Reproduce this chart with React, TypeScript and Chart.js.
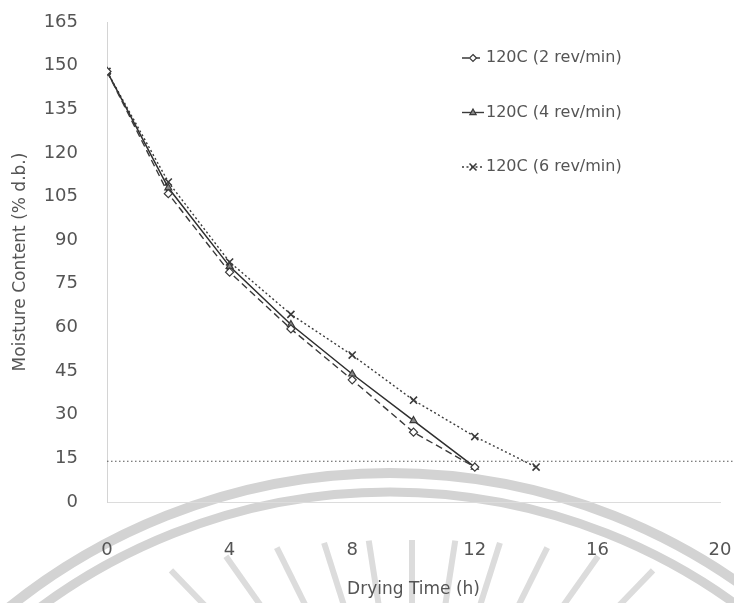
import React, { useEffect, useRef } from "react";
import { Chart, registerables } from "chart.js";

Chart.register(...registerables);

const DRY_TIME_H = [0, 2, 4, 6, 8, 10, 12, 14];
const MC_2REV = [148, 106, 79, 59.5, 42, 24, 12];
const MC_4REV = [148, 108, 81, 61, 44, 28, 12];
const MC_6REV = [148, 110, 82.5, 64.5, 50.5, 35, 22.5, 12];
const SERIES_LABELS = ["120C (2 rev/min)", "120C (4 rev/min)", "120C (6 rev/min)"];
const Y_TICKS = { min: 0, max: 165, step: 15 };
const X_TICKS = { min: 0, max: 20, step: 4 };
const TARGET_MC = 14;

const FONT = "'DejaVu Sans', 'Liberation Sans', Arial, sans-serif";
const INK = "#3a3a3a";
const TEXT = "#555555";

const toPoints = (ys: number[]) => ys.map((y, i) => ({ x: DRY_TIME_H[i], y }));

const watermarkPlugin = {
  id: "watermark",
  beforeDraw(chart: any) {
    const ctx = chart.ctx;
    ctx.save();
    ctx.strokeStyle = "#d3d3d3";
    const cx = 390, cy = 1080;
    ctx.lineWidth = 10;
    ctx.beginPath();
    ctx.arc(cx, cy, 607, Math.PI, 2 * Math.PI);
    ctx.stroke();
    ctx.lineWidth = 9;
    ctx.beginPath();
    ctx.arc(cx, cy, 588, Math.PI, 2 * Math.PI);
    ctx.stroke();
    // sun rays
    ctx.strokeStyle = "#dcdcdc";
    ctx.lineWidth = 6;
    ctx.lineCap = "butt";
    const rx = 412, ry = 820;
    for (let a = -44; a <= 44.1; a += 8.8) {
      const t = (a * Math.PI) / 180;
      const rOut = 280 + 90 * Math.pow(Math.abs(a) / 51, 2);
      const rIn = rOut - 110;
      ctx.beginPath();
      ctx.moveTo(rx + Math.sin(t) * rIn, ry - Math.cos(t) * rIn);
      ctx.lineTo(rx + Math.sin(t) * rOut, ry - Math.cos(t) * rOut);
      ctx.stroke();
    }
    ctx.restore();
  },
};

const refLinePlugin = {
  id: "refLine",
  beforeDatasetsDraw(chart: any) {
    const { ctx, chartArea, scales } = chart;
    const y = scales.y.getPixelForValue(TARGET_MC);
    ctx.save();
    ctx.strokeStyle = "#555";
    ctx.lineWidth = 1.2;
    ctx.setLineDash([1.5, 2.5]);
    ctx.beginPath();
    ctx.moveTo(chartArea.left, y);
    ctx.lineTo(chart.width, y);
    ctx.stroke();
    ctx.restore();
  },
};

function drawMarker(ctx: CanvasRenderingContext2D, style: string, x: number, y: number, r: number) {
  ctx.beginPath();
  if (style === "rectRot") {
    ctx.moveTo(x, y - r);
    ctx.lineTo(x + r, y);
    ctx.lineTo(x, y + r);
    ctx.lineTo(x - r, y);
    ctx.closePath();
    ctx.fill();
    ctx.stroke();
  } else if (style === "triangle") {
    ctx.moveTo(x, y - r);
    ctx.lineTo(x + r * 0.9, y + r * 0.6);
    ctx.lineTo(x - r * 0.9, y + r * 0.6);
    ctx.closePath();
    ctx.fill();
    ctx.stroke();
  } else {
    ctx.moveTo(x - r, y - r);
    ctx.lineTo(x + r, y + r);
    ctx.moveTo(x + r, y - r);
    ctx.lineTo(x - r, y + r);
    ctx.stroke();
  }
}

const legendPlugin = {
  id: "customLegend",
  afterDraw(chart: any) {
    const ctx = chart.ctx;
    ctx.save();
    chart.data.datasets.forEach((ds: any, i: number) => {
      const y = 58 + i * 54.5;
      const x0 = 462, x1 = 484;
      ctx.strokeStyle = INK;
      ctx.lineWidth = 1.4;
      ctx.setLineDash(ds.borderDash || []);
      ctx.beginPath();
      ctx.moveTo(x0, y);
      ctx.lineTo(x1, y);
      ctx.stroke();
      ctx.setLineDash([]);
      ctx.strokeStyle = ds.pointBorderColor;
      ctx.fillStyle = ds.pointBackgroundColor;
      ctx.lineWidth = ds.pointBorderWidth;
      drawMarker(ctx, ds.pointStyle, (x0 + x1) / 2, y, 3.5);
      ctx.fillStyle = TEXT;
      ctx.font = `16px ${FONT}`;
      ctx.textAlign = "left";
      ctx.textBaseline = "middle";
      ctx.fillText(ds.label, x1 + 2, y);
    });
    ctx.restore();
  },
};

export default function App() {
  const canvasRef = useRef<HTMLCanvasElement | null>(null);

  useEffect(() => {
    document.body.style.margin = "0";
    const canvas = canvasRef.current;
    if (!canvas) return;
    const chart = new Chart(canvas, {
      type: "line",
      data: {
        datasets: [
          {
            label: SERIES_LABELS[0],
            data: toPoints(MC_2REV),
            borderColor: INK,
            borderWidth: 1.4,
            borderDash: [7, 4],
            pointStyle: "rectRot",
            pointRadius: 4,
            pointBorderWidth: 1.2,
            pointBorderColor: INK,
            pointBackgroundColor: "#ffffff",
            tension: 0,
          },
          {
            label: SERIES_LABELS[1],
            data: toPoints(MC_4REV),
            borderColor: "#2e2e2e",
            borderWidth: 1.5,
            pointStyle: "triangle",
            pointRadius: 4,
            pointBorderWidth: 1.2,
            pointBorderColor: INK,
            pointBackgroundColor: "#888888",
            tension: 0,
          },
          {
            label: SERIES_LABELS[2],
            data: toPoints(MC_6REV),
            borderColor: INK,
            borderWidth: 1.4,
            borderDash: [2, 2.5],
            pointStyle: "crossRot",
            pointRadius: 5,
            pointBorderWidth: 1.6,
            pointBorderColor: INK,
            pointBackgroundColor: INK,
            tension: 0,
          },
        ],
      },
      options: {
        animation: false,
        responsive: false,
        maintainAspectRatio: false,
        layout: { padding: { top: 22, right: 14, left: 0, bottom: 0 } },
        plugins: {
          legend: { display: false },
          tooltip: { enabled: false },
        },
        scales: {
          x: {
            type: "linear",
            min: X_TICKS.min,
            max: X_TICKS.max,
            grid: {
              display: true,
              drawOnChartArea: false,
              drawTicks: true,
              tickLength: 38,
              color: "rgba(0,0,0,0)",
            },
            border: { display: true, color: "#dcdcdc", width: 1, dash: [1, 2] },
            ticks: {
              stepSize: X_TICKS.step,
              padding: 0,
              color: TEXT,
              font: { family: FONT, size: 18 },
            },
            title: {
              display: true,
              text: "Drying Time (h)",
              color: TEXT,
              font: { family: FONT, size: 17 },
              padding: { top: 0, bottom: 3 },
            },
            afterFit(scale: any) {
              scale.height = 101;
            },
          },
          y: {
            type: "linear",
            min: Y_TICKS.min,
            max: Y_TICKS.max,
            grid: {
              display: true,
              drawOnChartArea: false,
              drawTicks: true,
              tickLength: 29,
              color: "rgba(0,0,0,0)",
            },
            border: { display: true, color: "#d4d4d4", width: 1, dash: [1, 2] },
            ticks: {
              stepSize: Y_TICKS.step,
              padding: 0,
              color: TEXT,
              font: { family: FONT, size: 18 },
            },
            title: {
              display: true,
              text: "Moisture Content (% d.b.)",
              color: TEXT,
              font: { family: FONT, size: 17 },
              padding: { top: 10, bottom: 0 },
            },
            afterFit(scale: any) {
              scale.width = 107;
            },
          },
        },
      },
      plugins: [watermarkPlugin, refLinePlugin, legendPlugin],
    } as any);
    return () => chart.destroy();
  }, []);

  return (
    <div style={{ width: 734, height: 603, background: "#fff" }}>
      <canvas ref={canvasRef} width={734} height={603} style={{ display: "block" }} />
    </div>
  );
}
